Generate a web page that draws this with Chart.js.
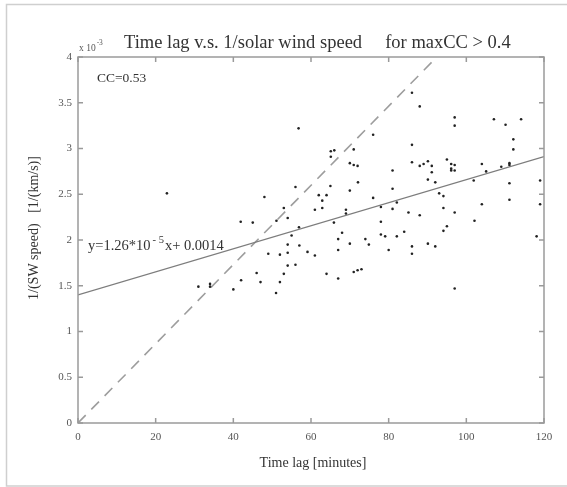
<!DOCTYPE html>
<html>
<head>
<meta charset="utf-8">
<script src="https://cdn.jsdelivr.net/npm/chart.js@4.4.1/dist/chart.umd.min.js"></script>
<style>
html, body { margin: 0; padding: 0; background: #fff; }
</style>
</head>
<body>
<canvas id="chart" width="567" height="487"></canvas>
<script>
// time lag [minutes] vs 1/(SW speed), y in units of 1e-3 s/km
const lagMinutes = [
    22.9, 56.8, 48.0, 56.0, 53.0, 41.9, 45.0, 51.1, 54.0, 56.9,
    55.0, 54.0, 57.0, 59.1, 49.0, 52.0, 54.0, 54.0, 56.0, 46.0,
    53.0, 42.0, 47.0, 52.0, 31.0, 34.0, 34.0, 40.0, 51.0,
    86.0, 88.0, 97.0, 97.0, 107.1, 110.1, 114.1, 76.0, 112.1, 112.1,
    86.0, 65.1, 66.0, 65.1, 71.0, 70.0, 71.0, 72.0, 86.0, 88.0,
    89.0, 90.1, 91.1, 91.1, 95.0, 96.1, 97.0, 96.1, 96.1, 97.0,
    104.0, 105.1, 109.0, 111.1, 111.1, 81.0, 72.1, 90.1, 92.0, 101.9,
    111.1, 119.0, 65.0, 70.0, 81.0, 62.0, 64.0, 62.9, 62.9, 61.0,
    76.0, 93.0, 94.1, 111.1, 78.0, 82.1, 81.0, 94.1, 104.0, 119.0,
    69.0, 69.0, 85.1, 88.0, 97.0, 65.9, 78.0, 102.1, 95.0, 94.1,
    68.0, 84.0, 78.0, 79.1, 82.1, 67.0, 74.0, 74.9, 70.0, 90.1,
    92.0, 86.0, 118.1, 61.0, 67.0, 80.0, 86.0, 64.0, 71.0, 72.0,
    73.0, 67.0, 97.0
];
const invSpeed = [
    2.51, 3.22, 2.47, 2.58, 2.35, 2.20, 2.19, 2.21, 2.24, 2.14,
    2.05, 1.95, 1.94, 1.87, 1.85, 1.84, 1.86, 1.72, 1.73, 1.64,
    1.63, 1.56, 1.54, 1.54, 1.49, 1.52, 1.49, 1.46, 1.42,
    3.61, 3.46, 3.34, 3.25, 3.32, 3.26, 3.32, 3.15, 3.10, 2.99,
    3.04, 2.97, 2.98, 2.91, 2.99, 2.84, 2.82, 2.81, 2.85, 2.81,
    2.83, 2.86, 2.81, 2.74, 2.88, 2.83, 2.82, 2.78, 2.76, 2.76,
    2.83, 2.75, 2.80, 2.84, 2.82, 2.76, 2.63, 2.66, 2.63, 2.65,
    2.62, 2.65, 2.59, 2.54, 2.56, 2.49, 2.49, 2.43, 2.35, 2.33,
    2.46, 2.51, 2.48, 2.44, 2.36, 2.41, 2.34, 2.35, 2.39, 2.39,
    2.33, 2.29, 2.30, 2.27, 2.30, 2.19, 2.20, 2.21, 2.15, 2.10,
    2.08, 2.09, 2.06, 2.04, 2.04, 2.01, 2.01, 1.95, 1.96, 1.96,
    1.93, 1.93, 2.04, 1.83, 1.89, 1.89, 1.85, 1.63, 1.65, 1.67,
    1.68, 1.58, 1.47
];
// fitted line y = 1.26e-5 x + 0.0014 (end points)
const fitX = [0, 120];
const fitY = [1.4, 2.912];
// dashed reference line
const refX = [0, 92.4];
const refY = [0, 4];
const xTicks = [0, 20, 40, 60, 80, 100, 120];
const yTicks = [0, 0.5, 1, 1.5, 2, 2.5, 3, 3.5, 4];

const serif = '"Liberation Serif", "Times New Roman", serif';

function toPoints(xs, ys) {
    return xs.map((v, i) => ({ x: v, y: ys[i] }));
}

const decor = {
    id: "decor",
    beforeDraw(chart) {
        const ctx = chart.ctx;
        ctx.save();
        ctx.fillStyle = "#fff";
        ctx.fillRect(0, 0, chart.width, chart.height);
        ctx.strokeStyle = "#cfcfcf";
        ctx.lineWidth = 1.5;
        ctx.beginPath();
        ctx.moveTo(567, 4.5);
        ctx.lineTo(6.5, 4.5);
        ctx.lineTo(6.5, 486);
        ctx.lineTo(567, 486);
        ctx.stroke();
        ctx.restore();
    },
    afterDraw(chart) {
        const { ctx, chartArea: a, scales: { x, y } } = chart;
        ctx.save();
        // axes box and inward ticks
        ctx.strokeStyle = "#9a9a9a";
        ctx.lineWidth = 1.5;
        ctx.strokeRect(a.left, a.top, a.right - a.left, a.bottom - a.top);
        ctx.beginPath();
        xTicks.forEach(v => {
            const px = x.getPixelForValue(v);
            ctx.moveTo(px, a.bottom); ctx.lineTo(px, a.bottom - 5);
            ctx.moveTo(px, a.top); ctx.lineTo(px, a.top + 5);
        });
        yTicks.forEach(v => {
            const py = y.getPixelForValue(v);
            ctx.moveTo(a.left, py); ctx.lineTo(a.left + 5, py);
            ctx.moveTo(a.right, py); ctx.lineTo(a.right - 5, py);
        });
        ctx.stroke();

        ctx.fillStyle = "#333";
        ctx.textBaseline = "alphabetic";
        // title
        ctx.font = "18.5px " + serif;
        ctx.textAlign = "left";
        ctx.fillText("Time lag v.s. 1/solar wind speed     for maxCC > 0.4", 124, 48);

        // exponent label
        ctx.fillStyle = "#555";
        ctx.font = "9.5px " + serif;
        ctx.fillText("x 10", 79, 51);
        const w10 = ctx.measureText("x 10").width;
        ctx.font = "7.5px " + serif;
        ctx.fillText("-3", 79 + w10 + 1, 45);

        // CC label
        ctx.fillStyle = "#333";
        ctx.font = "13.5px " + serif;
        ctx.fillText("CC=0.53", 97, 82);

        // fit equation
        ctx.font = "14.5px " + serif;
        let ex = 88;
        ctx.fillText("y=1.26*10", ex, 250);
        ex += ctx.measureText("y=1.26*10").width + 2;
        ctx.font = "10.5px " + serif;
        ctx.fillText("- 5", ex, 243);
        ex += ctx.measureText("- 5").width + 1;
        ctx.font = "14.5px " + serif;
        ctx.fillText("x+ 0.0014", ex, 250);

        // axis titles
        ctx.font = "14px " + serif;
        ctx.textAlign = "center";
        ctx.fillText("Time lag [minutes]", 313, 467);
        ctx.translate(34, 228);
        ctx.rotate(-Math.PI / 2);
        ctx.textBaseline = "middle";
        ctx.fillText("1/(SW speed)   [1/(km/s)]", 0, 0);
        ctx.restore();
    }
};

new Chart(document.getElementById("chart"), {
    type: "scatter",
    data: {
        datasets: [
            {
                label: "events",
                data: toPoints(lagMinutes, invSpeed),
                pointRadius: 1.3,
                pointBorderWidth: 0,
                pointBackgroundColor: "#222",
                showLine: false
            },
            {
                label: "fit",
                data: toPoints(fitX, fitY),
                showLine: true,
                pointRadius: 0,
                borderColor: "#7d7d7d",
                borderWidth: 1.3
            },
            {
                label: "reference",
                data: toPoints(refX, refY),
                showLine: true,
                pointRadius: 0,
                borderColor: "#9d9d9d",
                borderWidth: 1.6,
                borderDash: [11, 8]
            }
        ]
    },
    options: {
        responsive: false,
        animation: false,
        events: [],
        layout: { padding: { top: 57, right: 23, left: 0, bottom: 0 } },
        plugins: {
            legend: { display: false },
            tooltip: { enabled: false }
        },
        scales: {
            x: {
                type: "linear",
                min: 0,
                max: 120,
                grid: { display: false, drawTicks: false },
                border: { display: false },
                ticks: {
                    stepSize: 20,
                    padding: 8,
                    color: "#555",
                    font: { family: serif, size: 11 }
                },
                afterFit: s => { s.height = 64; }
            },
            y: {
                type: "linear",
                min: 0,
                max: 4,
                grid: { display: false, drawTicks: false },
                border: { display: false },
                ticks: {
                    stepSize: 0.5,
                    padding: 6,
                    color: "#555",
                    font: { family: serif, size: 11 },
                    callback: v => String(Math.round(v * 10) / 10)
                },
                afterFit: s => { s.width = 78; }
            }
        }
    },
    plugins: [decor]
});
</script>
</body>
</html>
